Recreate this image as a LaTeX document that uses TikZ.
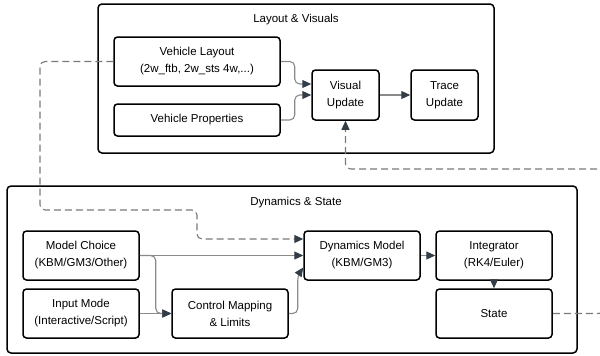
\documentclass[tikz,border=0pt]{standalone}
\usepackage{fontspec}
\setmainfont{Liberation Sans}
\usetikzlibrary{arrows.meta,positioning}
\definecolor{Edge}{HTML}{8A8A8A}
\definecolor{Tip}{HTML}{333D47}
\definecolor{Dash}{HTML}{7A7A7A}

\begin{document}
\begin{tikzpicture}[x=1pt,y=-1pt,font=\fontsize{11.5}{17}\selectfont,
          box/.style={draw=black,fill=white,rounded corners=3.5pt,line width=1.5pt,
            align=center,inner sep=0pt,minimum width=116pt,minimum height=49pt},
          cluster/.style={draw=black,rounded corners=4pt,line width=1.5pt},
          flow/.style={-{Triangle[length=9pt,width=8pt,color=Tip]},Edge,
            line width=1.1pt,rounded corners=5pt},
          dflow/.style={flow,Dash,dashed,dash pattern=on 7pt off 4pt}]
        \useasboundingbox (0,0) rectangle (600,356);

        % clusters
        \draw[cluster] (98,4) rectangle (494,153);
        \node (toplbl) at (296,20) {Layout \& Visuals};
        \draw[cluster] (7,186) rectangle (577,353);
        \node (botlbl) at (296,203) {Dynamics \& State};

        % layout & visuals
        \node[box,minimum width=166pt] (layout) at (197,61.5)
          {Vehicle Layout\\(2w\_ftb, 2w\_sts 4w,...)};
        \node[box,minimum width=166pt,minimum height=32pt] (props) at (197,120)
          {Vehicle Properties};
        \node[box,minimum width=67pt,minimum height=50pt] (visual) at (345.5,95)
          {Visual\\Update};
        \node[box,minimum width=67pt,minimum height=50pt] (trace) at (444.5,95)
          {Trace\\Update};

        % dynamics & state
        \node[box] (model) at (81,255.5) {Model Choice\\(KBM/GM3/Other)};
        \node[box] (input) at (81,313.5) {Input Mode\\(Interactive/Script)};
        \node[box] (ctrl) at (230,313.5) {Control Mapping\\\& Limits};
        \node[box] (dyn) at (362,255.5) {Dynamics Model\\(KBM/GM3)};
        \node[box] (integ) at (494,255.5) {Integrator\\(RK4/Euler)};
        \node[box] (state) at (494,313.5) {State};

        \draw[flow] (layout.east) -- ++(14,0) |- ([yshift=11pt]visual.west);
        \draw[flow] (props.east) -- ++(14,0) |- (visual.west);
        \draw[flow] (visual) -- (trace);

        \draw[flow] (model.east) -- (dyn.west);
        \draw[flow] (model.east) -- ++(16,0) |- (ctrl.west);
        \draw[flow] (input) -- (ctrl);
        \draw[flow] (ctrl.east) -| ++(9,-38) -- ([yshift=-12pt]dyn.west);
        \draw[flow] (dyn) -- (integ);
        \draw[flow] (integ) -- (state);

        % feedback paths
        \draw[dflow] (layout.west) -| (40,210) -| (197,239)
          -- ([yshift=16.5pt]dyn.west);
        \draw[dflow] (state.east) -| (604,169) -| (visual.south);
      \end{tikzpicture}
\end{document}
